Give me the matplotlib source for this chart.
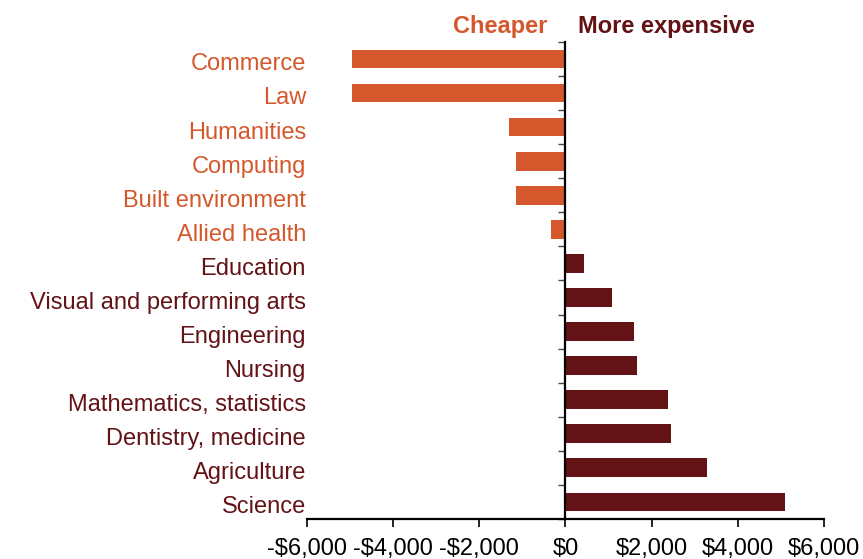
import matplotlib.pyplot as plt
import matplotlib.transforms as mtransforms
import numpy as np

plt.rcParams['font.family'] = ['Liberation Sans', 'DejaVu Sans']

categories = [
    "Commerce", "Law", "Humanities", "Computing", "Built environment",
    "Allied health", "Education", "Visual and performing arts", "Engineering",
    "Nursing", "Mathematics, statistics", "Dentistry, medicine", "Agriculture",
    "Science",
]
price_diff = [-4950, -4950, -1320, -1160, -1160, -330, 430, 1090, 1580,
              1650, 2370, 2460, 3290, 5100]
x_ticks = [-6000, -4000, -2000, 0, 2000, 4000, 6000]

ORANGE = "#D4582B"
MAROON = "#631216"
FS = 17

fig = plt.figure(figsize=(8.63, 5.59), dpi=100)
ax = fig.add_axes([0.3557, 0.0716, 0.5991, 0.8535])

y = np.arange(len(categories))
colors = [ORANGE if v < 0 else MAROON for v in price_diff]
ax.barh(y, price_diff, height=0.55, color=colors, zorder=2)

ax.set_xlim(-6000, 6000)
ax.set_ylim(len(categories) - 0.5, -0.5)

for side in ("top", "right"):
    ax.spines[side].set_visible(False)
ax.spines["left"].set_position(("data", 0))
ax.spines["left"].set_linewidth(1.6)
ax.spines["bottom"].set_linewidth(1.6)

# ticks on the zero line sit between categories
ax.set_yticks(np.arange(len(categories) + 1) - 0.5)
ax.set_yticklabels([])
ax.tick_params(axis="y", direction="out", length=5, width=1, color="#444444")

ax.set_xticks(x_ticks)
ax.set_xticklabels([f"-${abs(v):,}" if v < 0 else f"${v:,}" for v in x_ticks],
                   fontsize=FS)
ax.tick_params(axis="x", direction="out", length=6, width=1.2, pad=8)

# category names sit at the left edge of the axes, nudged slightly down
label_tf = ax.get_yaxis_transform() + mtransforms.ScaledTranslation(
    0, -3 / 100, fig.dpi_scale_trans)
for yi, (name, c) in enumerate(zip(categories, colors)):
    ax.text(-0.002, yi, name, transform=label_tf,
            ha="right", va="center_baseline", fontsize=FS, color=c)

fig.text(547 / 863, 1 - 24 / 559, "Cheaper", ha="right", va="center_baseline",
         fontsize=FS, fontweight="bold", color=ORANGE)
fig.text(578 / 863, 1 - 24 / 559, "More expensive", ha="left",
         va="center_baseline", fontsize=FS, fontweight="bold", color=MAROON)

fig.savefig("out.png", dpi=100)
